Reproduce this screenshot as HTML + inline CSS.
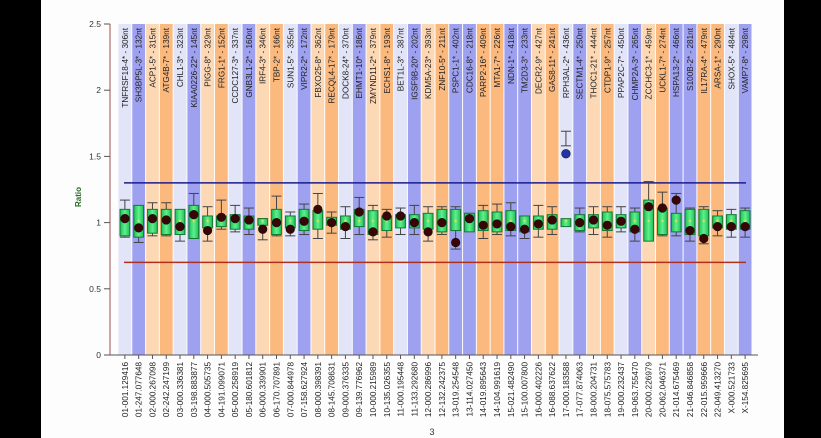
<!DOCTYPE html>
<html><head><meta charset="utf-8"><style>
html,body{margin:0;padding:0;background:#000;}
svg{display:block;font-family:"Liberation Sans",sans-serif;}
</style></head><body>
<svg id="c" width="821" height="438">
<defs><linearGradient id="bg" x1="0" x2="1" y1="0" y2="0"><stop offset="0" stop-color="#1fbf55"/><stop offset="0.5" stop-color="#5ef08e"/><stop offset="1" stop-color="#1fbf55"/></linearGradient></defs>
<rect x="0" y="0" width="41" height="438" fill="#000"/>
<rect x="41" y="0" width="743" height="438" fill="#fdfdfd"/>
<rect x="784" y="0" width="37" height="438" fill="#000"/>
<g id="bands"></g><g id="refs"></g><g id="boxes"></g><g id="axes"></g>
</svg>
<script>
const genes=["TNFRSF18-4* - 306nt","SH3BP5L-3* - 132nt","ACP1-5* - 315nt","ATG4B-7* - 139nt","CHL1-3* - 323nt","KIAA0226-22* - 145nt","PIGG-8* - 329nt","FRG1-1* - 152nt","CCDC127-3* - 337nt","GNB3L1-2* - 160nt","IRF4-3* - 346nt","TBP-2* - 166nt","SUN1-5* - 355nt","VIPR2-2* - 172nt","FBXO25-8* - 362nt","RECQL4-17* - 179nt","DOCK8-24* - 370nt","EHMT1-10* - 186nt","ZMYND11-2* - 379nt","ECHS1-8* - 193nt","BET1L-3* - 387nt","IGSF9B-20* - 202nt","KDM5A-23* - 393nt","ZNF10-5* - 211nt","PSPC1-1* - 402nt","CDC16-8* - 218nt","PARP2-16* - 409nt","MTA1-7* - 226nt","NDN-1* - 418nt","TM2D3-3* - 233nt","DECR2-9* - 427nt","GAS8-11* - 241nt","RPH3AL-2* - 436nt","SECTM1-4* - 250nt","THOC1-21* - 444nt","CTDP1-9* - 257nt","PPAP2C-7* - 450nt","CHMP2A-3* - 265nt","ZCCHC3-1* - 459nt","UCKL1-7* - 274nt","HSPA13-2* - 466nt","S100B-2* - 281nt","IL17RA-4* - 479nt","ARSA-1* - 290nt","SHOX-5* - 484nt","VAMP7-8* - 298nt"];
const positions=["01-001.129416","01-247.077648","02-000.267098","02-242.247199","03-000.336381","03-198.883877","04-000.505735","04-191.099071","05-000.258919","05-180.601812","06-000.339901","06-170.707891","07-000.844978","07-158.627924","08-000.398391","08-145.708631","09-000.376335","09-139.776962","10-000.215989","10-135.026355","11-000.195448","11-133.292680","12-000.286996","12-132.242375","13-019.254548","13-114.027450","14-019.895643","14-104.991619","15-021.482490","15-100.007800","16-000.402226","16-088.637622","17-000.183588","17-077.874063","18-000.204731","18-075.575783","19-000.232437","19-063.755470","20-000.226979","20-062.046371","21-014.675469","21-046.846858","22-015.959666","22-049.413270","X-000.521733","X-154.825695"];
const bandType=[0,1,2,3,0,1,2,3,0,1,2,3,0,1,2,3,0,1,2,3,0,1,2,3,1,1,3,3,1,1,2,3,0,1,2,3,0,1,2,3,1,1,3,3,0,1];
const means=[1.03,0.96,1.03,1.02,0.97,1.06,0.94,1.04,1.03,1.02,0.95,1.0,0.95,1.01,1.10,1.0,0.97,1.08,0.93,1.05,1.05,1.0,0.93,1.0,0.85,1.03,0.98,0.99,0.97,0.95,0.99,1.02,1.52,1.0,1.02,0.98,1.01,0.95,1.12,1.11,1.17,0.94,0.88,0.97,0.97,0.97];
const boxLo=[0.90,0.89,0.92,0.91,0.91,0.88,0.96,0.97,0.95,0.95,0.98,0.91,0.96,0.94,0.95,0.98,0.95,0.97,0.91,0.94,0.96,0.96,0.95,0.93,0.94,0.93,0.94,0.93,0.94,0.93,0.95,0.95,0.97,0.94,0.96,0.94,0.96,0.93,0.86,0.91,0.93,0.91,0.90,0.96,0.95,0.95];
const boxHi=[1.10,1.13,1.10,1.10,1.10,1.13,1.05,1.05,1.06,1.05,1.03,1.10,1.05,1.10,1.09,1.04,1.05,1.10,1.09,1.05,1.06,1.06,1.07,1.10,1.10,1.07,1.09,1.08,1.09,1.05,1.05,1.06,1.03,1.06,1.06,1.08,1.06,1.08,1.17,1.11,1.07,1.10,1.10,1.05,1.06,1.09];
const whiskLo=[0.89,0.85,0.90,0.90,0.86,0.88,0.86,0.95,0.93,0.91,0.87,0.90,0.90,0.91,0.88,0.92,0.88,0.91,0.87,0.89,0.91,0.91,0.86,0.91,0.80,0.94,0.88,0.91,0.90,0.88,0.89,0.91,1.58,0.93,0.91,0.89,0.93,0.86,0.90,0.90,0.90,0.86,0.84,0.90,0.89,0.89];
const whiskHi=[1.17,1.09,1.15,1.15,1.09,1.22,1.12,1.17,1.13,1.11,1.03,1.20,1.08,1.14,1.22,1.08,1.12,1.19,1.13,1.10,1.11,1.13,1.12,1.12,1.12,1.07,1.13,1.14,1.15,1.04,1.13,1.12,1.69,1.11,1.12,1.12,1.12,1.11,1.31,1.23,1.22,1.11,1.12,1.09,1.10,1.11];
const yTicks=[0,0.5,1,1.5,2,2.5];
const upperLimit=1.3, lowerLimit=0.7;

const NS="http://www.w3.org/2000/svg";
const X0=118, X1=752, Y0=355, YT=24, YMAX=2.5;
const n=genes.length, bw=(X1-X0)/n;
const xs=i=>X0+i*bw;
const ys=v=>Y0-(v/YMAX)*(Y0-YT);
const bandColors=["#e2e4f8","#9ea0f0","#fdd8b4","#fbb97e"];
function mk(parent,tag,attrs){const e=document.createElementNS(NS,tag);for(const k in attrs)e.setAttribute(k,attrs[k]);document.getElementById(parent).appendChild(e);return e;}

for(let i=0;i<n;i++){
  const r=mk('bands','rect',{x:xs(i)+0.5,y:YT,width:bw-1,height:Y0-YT,fill:bandColors[bandType[i]]});
  
  
  const t=mk('bands','text',{x:0,y:0,'font-size':8.2,fill:'#222','text-anchor':'end',transform:`translate(${xs(i)+bw/2+3},28) rotate(-90)`});
  t.textContent=genes[i];
  
  
  const p=mk('axes','text',{x:0,y:0,'font-size':8.2,fill:'#222','text-anchor':'end',transform:`translate(${xs(i)+bw/2+3},362) rotate(-90)`});
  p.textContent=positions[i];
  
  
  const tk=mk('axes','line',{x1:xs(i)+bw/2,x2:xs(i)+bw/2,y1:Y0,y2:Y0+4,stroke:'#555'});
  
  
}
const ul=mk('refs','line',{x1:X0+6,x2:X1-6,y1:ys(upperLimit),y2:ys(upperLimit),stroke:'#1c1c8c','stroke-width':1.5});


const ll=mk('refs','line',{x1:X0+6,x2:X1-6,y1:ys(lowerLimit),y2:ys(lowerLimit),stroke:'#b03020','stroke-width':1.5});



for(let i=0;i<n;i++){
  const cx=xs(i)+bw/2, w=bw-4;
  const wl=mk('boxes','line',{x1:cx,x2:cx,y1:ys(whiskHi[i]),y2:ys(whiskLo[i]),stroke:'#444','stroke-width':1});
  
  
  for(const v of [whiskHi[i],whiskLo[i]]){
    const c=mk('boxes','line',{x1:cx-5,x2:cx+5,y1:ys(v),y2:ys(v),stroke:'#444','stroke-width':1});
    
    
  }
  const b=mk('boxes','rect',{x:cx-w/2,y:ys(boxHi[i]),width:w,height:ys(boxLo[i])-ys(boxHi[i]),fill:'url(#bg)',stroke:'#137a33','stroke-width':1});
  
  
  const md=mk('boxes','text',{x:cx,y:ys(1)+3,'font-size':8,fill:'#ffe34a','text-anchor':'middle'});
  md.textContent='*';
  
  
  const d=mk('boxes','circle',{cx:cx,cy:ys(means[i]),r:4.3,fill:i===32?'#2233aa':'#3a0505',stroke:'#111','stroke-width':0.6});
  
  
}
const ax=mk('axes','line',{x1:110,x2:110,y1:YT,y2:Y0,stroke:'#a05050','stroke-width':1});


const xa=mk('axes','line',{x1:110,x2:X1+6,y1:Y0,y2:Y0,stroke:'#555','stroke-width':1});


for(const v of yTicks){
  const t=mk('axes','line',{x1:104,x2:110,y1:ys(v),y2:ys(v),stroke:'#555'});
  
  
  const l=mk('axes','text',{x:101,y:ys(v)+3,'font-size':8.5,fill:'#333','text-anchor':'end'});
  l.textContent=String(v);
  
  
}
const yt=mk('axes','text',{x:0,y:0,'font-size':8,'font-weight':'bold',fill:'#2a6a2a','text-anchor':'middle',transform:'translate(81,197) rotate(-90)'});
yt.textContent='Ratio';


const xt=mk('axes','text',{x:432,y:435,'font-size':9,fill:'#333','text-anchor':'middle'});
xt.textContent='3';


</script>
</body></html>
